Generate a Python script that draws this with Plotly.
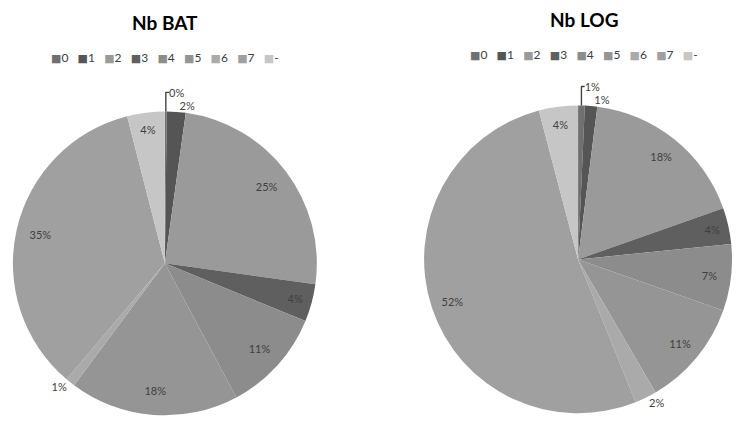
import plotly.graph_objects as go

categories = ["0", "1", "2", "3", "4", "5", "6", "7", "-"]
bat_values = [0.2, 2.0, 25.0, 4.0, 11.0, 18.0, 1.0, 34.8, 4.0]
log_values = [0.7, 1.3, 17.6, 3.8, 7.0, 11.2, 2.3, 52.0, 4.1]
colors = ["#707070", "#555555", "#9a9a9a", "#5f5f5f", "#8c8c8c",
          "#959595", "#aaaaaa", "#a0a0a0", "#c6c6c6"]
bat_textpos = ["outside", "outside", "inside", "inside", "inside",
               "inside", "outside", "inside", "inside"]
log_textpos = ["outside", "outside", "inside", "inside", "inside",
               "inside", "outside", "inside", "inside"]

W, H = 737, 421
FONT = "Lato, 'Open Sans', sans-serif"
TXT = "#404040"


def px_dom(x0, x1, ytop, ybot):
    return dict(x=[x0 / W, x1 / W], y=[(H - ybot) / H, (H - ytop) / H])


def add_pie(values, textpos, dom, name, hole):
    # filled slices
    fig.add_trace(go.Pie(
        labels=categories, values=values, sort=False, direction="clockwise",
        rotation=0, marker=dict(colors=colors, line=dict(width=0)),
        textinfo="none", domain=dom, showlegend=False, name=name,
    ))
    # transparent ring carrying the labels near the rim
    fig.add_trace(go.Pie(
        labels=categories, values=values, sort=False, direction="clockwise",
        rotation=0, hole=hole,
        marker=dict(colors=["rgba(0,0,0,0)"] * len(values), line=dict(width=0)),
        texttemplate="%{percent:.0%}", textposition=textpos,
        insidetextorientation="horizontal",
        textfont=dict(family=FONT, size=11, color=TXT),
        insidetextfont=dict(family=FONT, size=11, color=TXT),
        outsidetextfont=dict(family=FONT, size=11, color=TXT),
        domain=dom, showlegend=False, name=name, hoverinfo="skip",
    ))


fig = go.Figure()
add_pie(bat_values, bat_textpos, px_dom(13, 319, 111, 417), "Nb BAT", 0.68)
add_pie(log_values, log_textpos, px_dom(427, 737, 105, 415), "Nb LOG", 0.72)


def legend_text():
    parts = []
    for c, col in zip(categories, colors):
        parts.append(f"<span style='color:{col};font-family:DejaVu Sans;font-size:11px'>■</span>{c}")
    return "&nbsp;&nbsp;&nbsp;".join(parts)


annotations = [
    dict(text="<b>Nb BAT</b>", x=166 / W, y=1 - 23 / H, xref="paper", yref="paper",
         xanchor="center", yanchor="middle", showarrow=False,
         font=dict(family=FONT, size=19, color="#000000")),
    dict(text="<b>Nb LOG</b>", x=588 / W, y=1 - 20 / H, xref="paper", yref="paper",
         xanchor="center", yanchor="middle", showarrow=False,
         font=dict(family=FONT, size=19, color="#000000")),
    dict(text=legend_text(), x=166 / W, y=1 - 58 / H, xref="paper", yref="paper",
         xanchor="center", yanchor="middle", showarrow=False,
         font=dict(family=FONT, size=12, color=TXT)),
    dict(text=legend_text(), x=588 / W, y=1 - 55 / H, xref="paper", yref="paper",
         xanchor="center", yanchor="middle", showarrow=False,
         font=dict(family=FONT, size=12, color=TXT)),
]

fig.update_layout(
    width=W, height=H, margin=dict(l=0, r=0, t=0, b=0),
    paper_bgcolor="white", plot_bgcolor="white",
    annotations=annotations,
)
fig.write_html("out.html")
